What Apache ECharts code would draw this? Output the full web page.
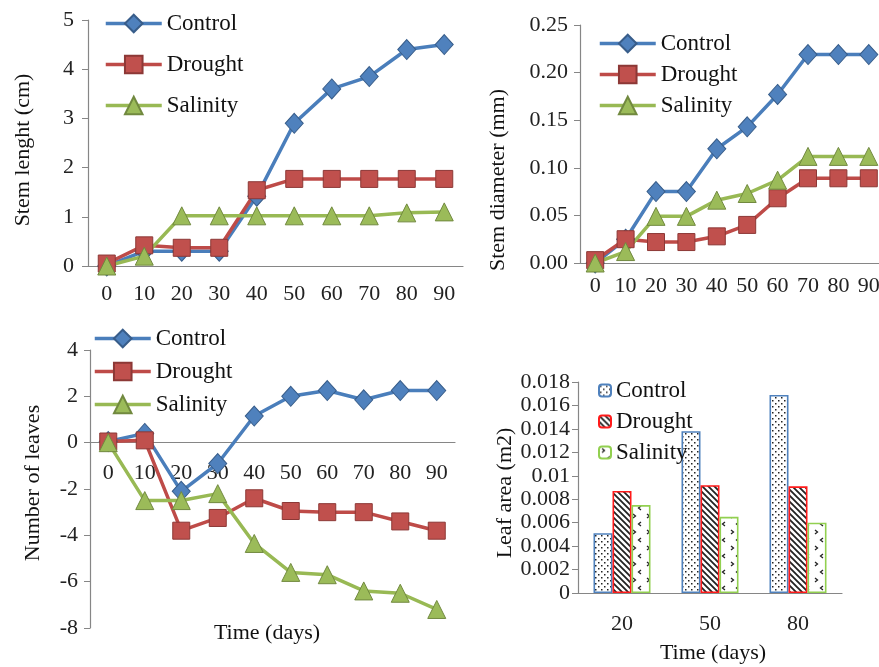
<!DOCTYPE html>
<html>
<head>
<meta charset="utf-8">
<title>Growth under drought and salinity</title>
<script src="https://cdn.jsdelivr.net/npm/echarts@6/dist/echarts.min.js"></script>
<style>
  html, body { margin: 0; padding: 0; background: #fff; }
  #main { width: 879px; height: 667px; }
</style>
</head>
<body>
<div id="main"></div>
<script>
// days after start of treatment
var days = ['0', '10', '20', '30', '40', '50', '60', '70', '80', '90'];
var laDays = ['20', '50', '80'];

// stem length (cm)
var lenControl  = [0, 0.3, 0.3, 0.3, 1.42, 2.9, 3.6, 3.85, 4.4, 4.5];
var lenDrought  = [0.05, 0.42, 0.37, 0.37, 1.54, 1.77, 1.77, 1.77, 1.77, 1.77];
var lenSalinity = [0, 0.2, 1.02, 1.02, 1.02, 1.02, 1.02, 1.02, 1.08, 1.1];

// stem diameter (mm)
var diaControl  = [0, 0.025, 0.075, 0.075, 0.12, 0.143, 0.177, 0.219, 0.219, 0.219];
var diaDrought  = [0.003, 0.025, 0.022, 0.022, 0.028, 0.04, 0.068, 0.089, 0.089, 0.089];
var diaSalinity = [0, 0.012, 0.049, 0.049, 0.066, 0.073, 0.087, 0.112, 0.112, 0.112];

// number of leaves (change)
var leavesControl  = [0.05, 0.4, -2.1, -0.9, 1.15, 2.0, 2.25, 1.85, 2.25, 2.25];
var leavesDrought  = [0.05, 0.1, -3.8, -3.25, -2.4, -2.95, -3.0, -3.0, -3.4, -3.8];
var leavesSalinity = [0, -2.5, -2.5, -2.2, -4.35, -5.6, -5.7, -6.4, -6.5, -7.2];

// leaf area (m2)
var laControl  = [0.0051, 0.0138, 0.0169];
var laDrought  = [0.0087, 0.0092, 0.0091];
var laSalinity = [0.0075, 0.0065, 0.006];

var FONT = '"Liberation Serif", "Times New Roman", serif';
var AXIS_GREY = '#868686';

// marker / line look per treatment (excel style)
var look = {
  Control:  { line: '#4a7ebb', fill: '#4f81bd', edge: '#385d8a', symbol: 'diamond', size: [18, 20] },
  Drought:  { line: '#be4b48', fill: '#c0504d', edge: '#8c3836', symbol: 'rect', size: 17 },
  Salinity: { line: '#98b954', fill: '#9bbb59', edge: '#71893f', symbol: 'triangle', size: 18 }
};

// small canvas tiles for the bar fills
function makePattern(w, h, draw) {
  var c = document.createElement('canvas');
  c.width = w; c.height = h;
  var ctx = c.getContext('2d');
  ctx.fillStyle = '#fff';
  ctx.fillRect(0, 0, w, h);
  ctx.fillStyle = '#222';
  ctx.strokeStyle = '#222';
  draw(ctx);
  return { image: c, repeat: 'repeat' };
}
var dots = makePattern(6, 6, function (ctx) {
  ctx.fillRect(1, 1, 1.5, 1.5);
  ctx.fillRect(4, 4, 1.5, 1.5);
});
var hatch = makePattern(6, 6, function (ctx) {
  ctx.lineWidth = 1.8;
  ctx.beginPath();
  ctx.moveTo(-1, -1); ctx.lineTo(7, 7);
  ctx.moveTo(-1, 5); ctx.lineTo(1, 7);
  ctx.moveTo(5, -1); ctx.lineTo(7, 1);
  ctx.stroke();
});
var chevrons = makePattern(14, 16, function (ctx) {
  ctx.lineWidth = 1.3;
  ctx.beginPath();
  ctx.moveTo(3, 2); ctx.lineTo(5.5, 4); ctx.lineTo(3, 6);
  ctx.moveTo(11, 10); ctx.lineTo(8.5, 12); ctx.lineTo(11, 14);
  ctx.stroke();
});

var grids = [
  { left: 88, top: 20, width: 375, height: 246 },
  { left: 580, top: 25, width: 304, height: 238 },
  { left: 90, top: 350, width: 365, height: 278 },
  { left: 578, top: 382, width: 264, height: 211 }
].map(function (g) { g.outerBoundsMode = 'none'; g.containLabel = false; return g; });

function xCat(idx, data, margin, tickLen) {
  return {
    type: 'category', gridIndex: idx, data: data,
    axisLine: { onZero: false, lineStyle: { color: AXIS_GREY, width: 1.2 } },
    axisTick: { length: tickLen || 6, lineStyle: { color: AXIS_GREY } },
    axisLabel: { interval: 0, margin: margin, color: '#222', fontFamily: FONT, fontSize: 22 },
    splitLine: { show: false }
  };
}
function yVal(idx, min, max, step, fmt, margin) {
  return {
    type: 'value', gridIndex: idx, min: min, max: max, interval: step,
    axisLine: { show: true, lineStyle: { color: AXIS_GREY, width: 1.2 } },
    axisTick: { show: true, length: 6, lineStyle: { color: AXIS_GREY } },
    axisLabel: { margin: margin, color: '#222', fontFamily: FONT, fontSize: 22, formatter: fmt },
    splitLine: { show: false }
  };
}

// leaves panel: x axis sits at y = 0, i.e. 8 of the 12 units above the grid bottom
var leavesX = xCat(2, days, 20);
leavesX.offset = -grids[2].height * 8 / 12;

function lineSeries(name, data, idx) {
  var l = look[name];
  return {
    name: name, type: 'line', xAxisIndex: idx, yAxisIndex: idx, data: data,
    symbol: l.symbol, symbolSize: l.size, showAllSymbol: true,
    lineStyle: { color: l.line, width: 3.5 },
    itemStyle: { color: l.fill, borderColor: l.edge, borderWidth: 1 }
  };
}
function barSeries(name, data, fill, edge) {
  // trailing space keeps bar legend icons apart from the line legends
  return {
    name: name + ' ', type: 'bar', xAxisIndex: 3, yAxisIndex: 3, data: data,
    barWidth: 19, barGap: '0%',
    itemStyle: { color: fill, borderColor: edge, borderWidth: 1.6 }
  };
}

function lineLegend(left, top, gap) {
  return {
    orient: 'vertical', left: left, top: top, itemGap: gap, padding: 0,
    itemWidth: 56, itemHeight: 22,
    data: ['Control', 'Drought', 'Salinity'],
    lineStyle: { width: 3.5 },
    textStyle: { fontFamily: FONT, fontSize: 23, color: '#111', lineHeight: 22 },
    selectedMode: false
  };
}

function title(text, x, y, vertical) {
  return {
    type: 'text', x: x, y: y, rotation: vertical ? Math.PI / 2 : 0,
    style: {
      text: text, font: '22px ' + FONT, fill: '#111',
      textAlign: 'center', textVerticalAlign: 'middle', align: 'center', verticalAlign: 'middle'
    }
  };
}

var option = {
  animation: false,
  backgroundColor: '#fff',
  grid: grids,
  xAxis: [xCat(0, days, 17), xCat(1, days, 12), leavesX, xCat(3, laDays, 20, 8)],
  yAxis: [
    yVal(0, 0, 5, 1, null, 14),
    yVal(1, 0, 0.25, 0.05, function (v) { return v.toFixed(2); }, 12),
    yVal(2, -8, 4, 2, null, 12),
    yVal(3, 0, 0.018, 0.002, function (v) { return String(+v.toFixed(3)); }, 8)
  ],
  legend: [
    lineLegend(104, 12, 18),
    lineLegend(598, 32, 8),
    lineLegend(93, 327, 10),
    {
      orient: 'vertical', left: 598, top: 379, itemGap: 8, padding: 0,
      itemWidth: 12, itemHeight: 12,
      data: ['Control ', 'Drought ', 'Salinity '],
      formatter: function (n) { return n.trim(); },
      textStyle: { fontFamily: FONT, fontSize: 23, color: '#111', lineHeight: 22 },
      selectedMode: false
    }
  ],
  graphic: [
    title('Stem lenght (cm)', 23, 150, true),
    title('Stem diameter (mm)', 498, 180, true),
    title('Number of leaves', 33, 483, true),
    title('Leaf area (m2)', 505, 493, true),
    title('Time (days)', 267, 633, false),
    title('Time (days)', 713, 653, false)
  ],
  series: [
    lineSeries('Control', lenControl, 0),
    lineSeries('Drought', lenDrought, 0),
    lineSeries('Salinity', lenSalinity, 0),
    lineSeries('Control', diaControl, 1),
    lineSeries('Drought', diaDrought, 1),
    lineSeries('Salinity', diaSalinity, 1),
    lineSeries('Control', leavesControl, 2),
    lineSeries('Drought', leavesDrought, 2),
    lineSeries('Salinity', leavesSalinity, 2),
    barSeries('Control', laControl, dots, '#4f81bd'),
    barSeries('Drought', laDrought, hatch, '#ff1a1a'),
    barSeries('Salinity', laSalinity, chevrons, '#92d050')
  ]
};

var chart = echarts.init(document.getElementById('main'), null, { renderer: 'canvas' });
chart.setOption(option);
</script>
</body>
</html>
